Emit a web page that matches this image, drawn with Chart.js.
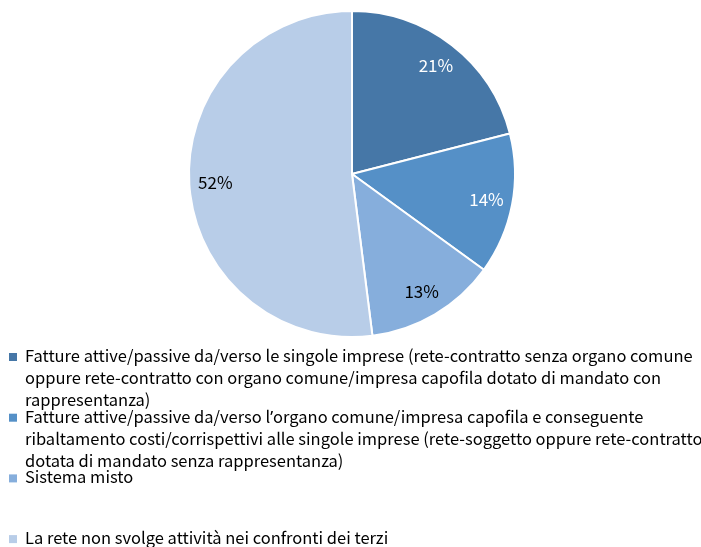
<!DOCTYPE html>
<html>
<head>
<meta charset="utf-8">
<script src="https://cdn.jsdelivr.net/npm/chart.js@4/dist/chart.umd.min.js"></script>
<style>
  html, body { margin: 0; padding: 0; background: #fff; }
  #wrap { position: relative; width: 701px; height: 547px; }
</style>
</head>
<body>
<div id="wrap"><canvas id="chart" width="701" height="547"></canvas></div>
<script>
// Categories (each split into the lines shown in the legend)
const categories = [
  ["Fatture attive/passive da/verso le singole imprese (rete-contratto senza organo comune",
   "oppure rete-contratto con organo comune/impresa capofila dotato di mandato con",
   "rappresentanza)"],
  ["Fatture attive/passive da/verso l\u2019organo comune/impresa capofila e conseguente",
   "ribaltamento costi/corrispettivi alle singole imprese (rete-soggetto oppure rete-contratto",
   "dotata di mandato senza rappresentanza)"],
  ["Sistema misto"],
  ["La rete non svolge attività nei confronti dei terzi"]
];
// Share of networks, percent
const shares = [21, 14, 13, 52];
const sliceColors = ["#4677a7", "#5590c7", "#86aedc", "#b8cde8"];
const labelColors = ["#ffffff", "#ffffff", "#000000", "#000000"];

const MAIN_FONT = "'Noto Sans CJK SC', 'Noto Sans', sans-serif";
const PUNCT_FONT = "'Noto Sans', 'Open Sans', sans-serif";

// Draws a line of text; curly quotes use a Latin font so they keep a narrow width
function drawLine(ctx, text, x, y, size) {
  const parts = text.split(/(\u2019)/);
  let cx = x;
  parts.forEach(p => {
    if (!p) return;
    ctx.font = size + "px " + (p === "\u2019" ? PUNCT_FONT : MAIN_FONT);
    ctx.fillText(p, cx, y);
    cx += ctx.measureText(p).width;
  });
}

// Percentage labels placed inside each slice
const sliceLabels = {
  id: 'sliceLabels',
  afterDatasetsDraw(chart) {
    const ctx = chart.ctx;
    const meta = chart.getDatasetMeta(0);
    const data = chart.data.datasets[0].data;
    const total = data.reduce((a, b) => a + b, 0);
    meta.data.forEach((arc, i) => {
      const { x, y, startAngle, endAngle, outerRadius } =
        arc.getProps(['x', 'y', 'startAngle', 'endAngle', 'outerRadius'], true);
      const mid = (startAngle + endAngle) / 2;
      const r = outerRadius * 0.84;
      ctx.save();
      ctx.font = "17px " + MAIN_FONT;
      ctx.fillStyle = labelColors[i];
      ctx.textAlign = 'center';
      ctx.textBaseline = 'middle';
      ctx.fillText(Math.round(data[i] / total * 100) + '%',
                   x + Math.cos(mid) * r, y + Math.sin(mid) * r);
      ctx.restore();
    });
  }
};

// Legend drawn below the pie, one block per category
const blockLegend = {
  id: 'blockLegend',
  afterDraw(chart) {
    const ctx = chart.ctx;
    const area = chart.chartArea;
    const colors = chart.data.datasets[0].backgroundColor;
    const labels = chart.data.labels;
    const firstBaseline = area.bottom + 24;
    const pitch = 60.7;
    const lineGap = 22;
    ctx.save();
    ctx.textBaseline = 'alphabetic';
    ctx.textAlign = 'left';
    labels.forEach((lines, i) => {
      const base = firstBaseline + i * pitch;
      ctx.fillStyle = colors[i];
      ctx.fillRect(9, base - 9, 8, 8);
      ctx.fillStyle = '#000';
      lines.forEach((ln, j) => drawLine(ctx, ln, 25, base + j * lineGap, 16.5));
    });
    ctx.restore();
  }
};

new Chart(document.getElementById('chart'), {
  type: 'pie',
  data: {
    labels: categories,
    datasets: [{
      data: shares,
      backgroundColor: sliceColors,
      borderColor: '#ffffff',
      borderWidth: 2
    }]
  },
  options: {
    responsive: false,
    animation: false,
    layout: { padding: { top: 10, bottom: 209, left: 3, right: 0 } },
    plugins: {
      legend: { display: false },
      tooltip: { enabled: false }
    }
  },
  plugins: [sliceLabels, blockLegend]
});
</script>
</body>
</html>
